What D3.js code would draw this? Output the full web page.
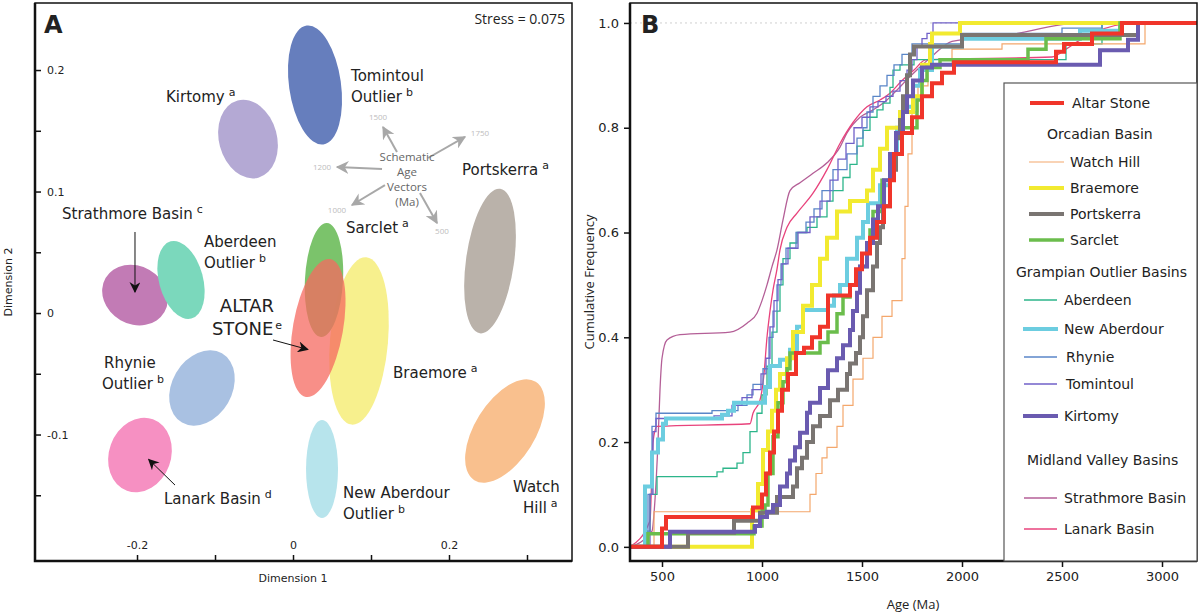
<!DOCTYPE html>
<html>
<head>
<meta charset="utf-8">
<script src="https://cdn.jsdelivr.net/npm/d3@7"></script>
<style>
  body { margin: 0; background: #fff; }
  text { font-family: "DejaVu Sans", sans-serif; fill: #222; }
  .sans { font-family: "Open Sans", sans-serif; }
</style>
</head>
<body>
<svg id="chart" width="1200" height="613"></svg>
<script>
"use strict";

// ---- Panel A: MDS plot, one confidence ellipse per basin ----
// drawing order: later ones sit on top
var mds_names = ['Tomintoul', 'Kirtomy', 'Strathmore', 'Aberdeen', 'Rhynie', 'Lanark',
                 'Portskerra', 'Watch Hill', 'New Aberdour', 'Braemore', 'Sarclet', 'Altar Stone'];
var mds_dim1  = [0.0282, -0.0577, -0.2026, -0.1436, -0.1167, -0.1962,
                 0.2526, 0.2718, 0.0372, 0.0846, 0.0397, 0.0321];
var mds_dim2  = [0.1877, 0.1432, 0.0148, 0.0272, -0.0617, -0.1169,
                 0.0428, -0.0971, -0.1284, -0.0230, 0.0272, -0.0123];
// semi-axes (dimension units) and tilt (degrees)
var mds_semi1 = [0.0333, 0.0372, 0.0436, 0.0282, 0.0385, 0.0397,
                 0.0308, 0.0385, 0.0205, 0.0372, 0.0244, 0.0321];
var mds_semi2 = [0.0494, 0.0329, 0.0239, 0.0329, 0.0329, 0.0313,
                 0.0601, 0.0477, 0.0403, 0.0691, 0.0469, 0.0576];
var mds_tilt  = [-8, -15, 30, -15, 30, 20, 8, 32, 0, 5, 3, 10];

var stress = 0.075;
var dim1_ticks = [-0.2, -0.1, 0, 0.1, 0.2, 0.3];
var dim1_labelled = [-0.2, 0, 0.2];
var dim2_ticks = [-0.15, -0.1, -0.05, 0, 0.05, 0.1, 0.15, 0.2];
var dim2_labelled = [-0.1, 0, 0.1, 0.2];

// ---- Panel B: cumulative age distributions [age Ma, cumulative frequency] ----
var cdf_names = ['Strathmore Basin', 'Lanark Basin', 'Aberdeen', 'Rhynie', 'Tomintoul',
                 'Watch Hill', 'New Aberdour', 'Braemore', 'Sarclet', 'Portskerra',
                 'Kirtomy', 'Altar Stone'];

var strathmore_cdf = [[340,0],[450,0.03],[465,0.09],[480,0.20],[490,0.30],[500,0.36],[525,0.395],
  [590,0.405],[840,0.41],[925,0.427],[975,0.446],[1000,0.47],[1025,0.50],[1050,0.535],[1075,0.567],
  [1105,0.624],[1140,0.68],[1190,0.695],[1255,0.713],[1325,0.733],[1390,0.763],[1425,0.79],
  [1490,0.82],[1555,0.834],[1625,0.853],[1675,0.872],[1720,0.89],[1790,0.916],[1860,0.94],
  [1950,0.965],[2200,0.975],[2600,1.0],[3175,1.0]];
var lanark_cdf = [[340,0],[440,0.05],[455,0.20],[475,0.23],[940,0.235],[955,0.255],[990,0.28],
  [1010,0.33],[1025,0.40],[1040,0.45],[1055,0.49],[1075,0.53],[1090,0.567],[1125,0.61],[1175,0.637],
  [1255,0.675],[1325,0.72],[1390,0.77],[1455,0.81],[1525,0.84],[1590,0.853],[1640,0.866],
  [1700,0.89],[1760,0.91],[1820,0.93],[2450,0.935],[2520,0.95],[2580,0.965],[2650,0.98],
  [2880,1.0],[3175,1.0]];
var aberdeen_cdf = [[340,0],[420,0.03],[440,0.10],[475,0.134],[775,0.143],[805,0.15],[875,0.16],
  [905,0.18],[940,0.22],[975,0.255],[1000,0.29],[1025,0.345],[1050,0.41],[1075,0.45],[1090,0.50],
  [1105,0.55],[1140,0.58],[1175,0.60],[1225,0.61],[1275,0.63],[1325,0.66],[1355,0.68],[1405,0.705],
  [1440,0.73],[1475,0.765],[1505,0.795],[1540,0.82],[1575,0.834],[1605,0.847],[1640,0.877],
  [1655,0.91],[1690,0.92],[1760,0.93],[2520,0.96],[2700,1.0],[3175,1.0]];
var rhynie_cdf = [[340,0],[430,0.10],[450,0.23],[470,0.255],[750,0.26],[880,0.27],[925,0.29],
  [955,0.31],[1005,0.34],[1035,0.40],[1055,0.45],[1075,0.50],[1095,0.54],[1120,0.57],[1170,0.60],
  [1220,0.62],[1260,0.645],[1300,0.68],[1355,0.72],[1425,0.75],[1475,0.78],[1505,0.80],[1525,0.83],
  [1555,0.86],[1590,0.88],[1625,0.90],[1660,0.92],[1700,0.94],[1750,0.96],[2000,0.98],[2500,0.99],
  [2700,1.0],[3175,1.0]];
var tomintoul_cdf = [[340,0],[440,0.10],[455,0.22],[470,0.245],[760,0.25],[850,0.27],[900,0.285],
  [950,0.30],[995,0.33],[1020,0.36],[1040,0.42],[1060,0.47],[1080,0.51],[1100,0.54],[1130,0.57],
  [1180,0.60],[1240,0.63],[1290,0.66],[1340,0.70],[1380,0.74],[1420,0.77],[1460,0.80],[1500,0.82],
  [1540,0.84],[1580,0.85],[1620,0.86],[1655,0.87],[1690,0.89],[1725,0.91],[1750,0.93],[1775,0.954],
  [1800,0.97],[1825,0.98],[1855,1.0],[3175,1.0]];
var watch_hill_cdf = [[340,0],[460,0.067],[1240,0.10],[1270,0.14],[1300,0.17],[1325,0.19],
  [1375,0.23],[1405,0.27],[1455,0.32],[1505,0.36],[1555,0.40],[1600,0.44],[1650,0.47],[1700,0.55],
  [1715,0.65],[1730,0.75],[1750,0.83],[1780,0.88],[1830,0.92],[1950,0.95],[2200,0.96],[2915,1.0],
  [3175,1.0]];
var new_aberdour_cdf = [[340,0],[415,0.115],[450,0.18],[480,0.205],[505,0.235],[520,0.245],
  [800,0.252],[830,0.26],[860,0.275],[1015,0.305],[1040,0.345],[1090,0.357],[1140,0.376],
  [1175,0.42],[1205,0.452],[1330,0.46],[1360,0.48],[1390,0.50],[1425,0.55],[1475,0.59],[1505,0.62],
  [1530,0.656],[1590,0.69],[1640,0.75],[1675,0.80],[1705,0.84],[1755,0.88],[1790,0.91],[1850,0.955],
  [2000,0.97],[2590,0.985],[2790,1.0],[3175,1.0]];
var braemore_cdf = [[340,0],[950,0.07],[980,0.12],[1005,0.185],[1030,0.22],[1050,0.26],[1070,0.30],
  [1090,0.33],[1125,0.36],[1155,0.41],[1205,0.46],[1250,0.50],[1290,0.55],[1325,0.59],[1375,0.64],
  [1440,0.66],[1525,0.68],[1555,0.72],[1590,0.76],[1625,0.80],[1690,0.83],[1755,0.86],[1800,0.92],
  [1840,0.96],[1850,0.98],[1990,1.0],[3175,1.0]];
var sarclet_cdf = [[340,0],[430,0.025],[960,0.04],[1000,0.07],[1015,0.08],[1030,0.14],[1055,0.21],
  [1080,0.275],[1105,0.315],[1125,0.34],[1140,0.37],[1290,0.39],[1330,0.41],[1375,0.445],
  [1405,0.477],[1440,0.50],[1490,0.535],[1525,0.58],[1540,0.605],[1555,0.64],[1600,0.70],
  [1640,0.75],[1700,0.80],[1775,0.853],[1800,0.89],[1825,0.915],[1890,0.93],[2330,0.95],
  [2420,0.97],[2790,1.0],[3175,1.0]];
var portskerra_cdf = [[340,0],[630,0.027],[860,0.05],[990,0.065],[1075,0.095],[1155,0.115],
  [1175,0.15],[1200,0.17],[1225,0.20],[1255,0.23],[1290,0.25],[1340,0.28],[1380,0.30],[1425,0.33],
  [1440,0.35],[1470,0.37],[1490,0.40],[1505,0.44],[1525,0.49],[1555,0.535],[1575,0.58],[1590,0.61],
  [1605,0.65],[1640,0.72],[1670,0.78],[1690,0.815],[1705,0.86],[1725,0.90],[1740,0.94],[1760,0.955],
  [2000,0.977],[2880,1.0],[3175,1.0]];
var kirtomy_cdf = [[340,0],[540,0.029],[965,0.04],[990,0.057],[1025,0.067],[1055,0.08],[1090,0.115],
  [1125,0.14],[1140,0.165],[1165,0.19],[1190,0.218],[1225,0.256],[1240,0.275],[1290,0.303],
  [1330,0.337],[1375,0.36],[1405,0.385],[1440,0.414],[1455,0.45],[1475,0.485],[1490,0.535],
  [1525,0.58],[1555,0.625],[1580,0.65],[1610,0.70],[1640,0.75],[1670,0.79],[1705,0.83],[1725,0.86],
  [1755,0.89],[1800,0.915],[1850,0.92],[2690,0.948],[2830,0.968],[2880,1.0],[3175,1.0]];
var altar_stone_cdf = [[340,0],[500,0.035],[520,0.057],[955,0.075],[1000,0.10],[1020,0.14],
  [1040,0.18],[1060,0.22],[1080,0.26],[1100,0.30],[1130,0.33],[1170,0.37],[1210,0.38],[1250,0.40],
  [1290,0.42],[1330,0.48],[1440,0.50],[1470,0.53],[1500,0.56],[1540,0.59],[1575,0.62],[1610,0.65],
  [1640,0.70],[1660,0.75],[1700,0.79],[1750,0.82],[1800,0.86],[1850,0.885],[1900,0.905],
  [1960,0.925],[2470,0.945],[2510,0.96],[2650,0.98],[2800,1.0],[3175,1.0]];

var cdf_values = [strathmore_cdf, lanark_cdf, aberdeen_cdf, rhynie_cdf, tomintoul_cdf,
                  watch_hill_cdf, new_aberdour_cdf, braemore_cdf, sarclet_cdf, portskerra_cdf,
                  kirtomy_cdf, altar_stone_cdf];

var age_ticks = [500, 1000, 1500, 2000, 2500, 3000];
var freq_ticks = [0, 0.2, 0.4, 0.6, 0.8, 1.0];

// ---- styles ----
var ellipse_colors = {
  'Tomintoul': '#667ebd', 'Kirtomy': '#b4a9d4', 'Strathmore': '#c27bb5', 'Aberdeen': '#7bd8bc',
  'Rhynie': '#a9c1e2', 'Lanark': '#f690c2', 'Portskerra': '#bab2aa', 'Watch Hill': '#f9c08e',
  'New Aberdour': '#b7e4ec', 'Braemore': '#f7f08d', 'Sarclet': '#74c063', 'Altar Stone': '#f56a60'
};
var ellipse_opacity = { 'Sarclet': 0.95, 'Altar Stone': 0.75 };

var line_styles = {
  'Altar Stone':      { color: '#f0352a', width: 4 },
  'Watch Hill':       { color: '#f4a76c', width: 1.2 },
  'Braemore':         { color: '#f2ea30', width: 4 },
  'Portskerra':       { color: '#7a7572', width: 4 },
  'Sarclet':          { color: '#6bbd4c', width: 3.5 },
  'Aberdeen':         { color: '#2cb58a', width: 1.3 },
  'New Aberdour':     { color: '#6ccde0', width: 4 },
  'Rhynie':           { color: '#5a86c8', width: 1.3 },
  'Tomintoul':        { color: '#7060c8', width: 1.3 },
  'Kirtomy':          { color: '#6a5bb0', width: 4 },
  'Strathmore Basin': { color: '#b45f97', width: 1.3 },
  'Lanark Basin':     { color: '#e8437c', width: 1.3 }
};

var svg = d3.select('#chart');
var defs = svg.append('defs');

function add_marker(id, color, size) {
  defs.append('marker')
    .attr('id', id)
    .attr('viewBox', '0 0 10 10')
    .attr('refX', 9).attr('refY', 5)
    .attr('markerWidth', size).attr('markerHeight', size)
    .attr('markerUnits', 'userSpaceOnUse')
    .attr('orient', 'auto')
    .append('path')
    .attr('d', 'M0,0 L10,5 L0,10 L3,5 Z')
    .attr('fill', color);
}
add_marker('arrow-black', '#111', 11);
add_marker('arrow-grey', '#a8a8a8', 13);

// ================= Panel A =================
var a_x = d3.scaleLinear().domain([-0.3308, 0.3577]).range([35, 572]);
var a_y = d3.scaleLinear().domain([-0.2041, 0.256]).range([561, 2]);
var pa = svg.append('g');

mds_names.forEach(function(name, i) {
  pa.append('ellipse')
    .attr('rx', a_x(mds_semi1[i]) - a_x(0))
    .attr('ry', a_y(0) - a_y(mds_semi2[i]))
    .attr('transform', 'translate(' + a_x(mds_dim1[i]) + ',' + a_y(mds_dim2[i]) + ') rotate(' + mds_tilt[i] + ')')
    .attr('fill', ellipse_colors[name])
    .attr('fill-opacity', ellipse_opacity[name] || 1);
});

function labeller(labelled) {
  return function(d) {
    var hit = labelled.some(function(v) { return Math.abs(v - d) < 1e-9; });
    if (!hit) return '';
    return Math.abs(d) < 1e-9 ? '0' : String(+d.toFixed(1));
  };
}

var a_yaxis = pa.append('g')
  .attr('transform', 'translate(35,0)')
  .call(d3.axisRight(a_y).tickValues(dim2_ticks).tickSize(6).tickPadding(6).tickFormat(labeller(dim2_labelled)));
var a_xaxis = pa.append('g')
  .attr('transform', 'translate(0,561)')
  .call(d3.axisTop(a_x).tickValues(dim1_ticks).tickSize(6).tickPadding(6).tickFormat(labeller(dim1_labelled)));
[a_yaxis, a_xaxis].forEach(function(ax) {
  ax.select('.domain').remove();
  ax.selectAll('line').attr('stroke', '#111').attr('stroke-width', 1.5);
  ax.selectAll('text').attr('font-size', 11).attr('font-family', '"DejaVu Sans", sans-serif').attr('fill', '#222');
});

// frame
pa.append('rect').attr('x', 35).attr('y', 3).attr('width', 537).attr('height', 558)
  .attr('fill', 'none').attr('stroke', '#111').attr('stroke-width', 1.5);
pa.append('path').attr('d', 'M35,3 V561 H572').attr('fill', 'none').attr('stroke', '#111').attr('stroke-width', 2.5);

pa.append('text').attr('x', 44).attr('y', 33).attr('font-size', 24).attr('font-weight', 'bold')
  .attr('fill', '#000').text('A');
pa.append('text').attr('class', 'sans').attr('x', 565).attr('y', 24).attr('text-anchor', 'end')
  .attr('font-size', 14).text('Stress = ' + stress);

pa.append('text').attr('x', 293).attr('y', 582).attr('text-anchor', 'middle').attr('font-size', 11)
  .text('Dimension 1');
pa.append('text').attr('transform', 'translate(12,282) rotate(-90)').attr('text-anchor', 'middle')
  .attr('font-size', 11).text('Dimension 2');

// basin labels: lines, superscript, anchor in MDS units
var basin_labels = [
  { lines: ['Kirtomy'], sup: 'a', d1: -0.1628, d2: 0.1737 },
  { lines: ['Tomintoul', 'Outlier'], sup: 'b', d1: 0.0744, d2: 0.1909 },
  { lines: ['Strathmore Basin'], sup: 'c', d1: -0.2962, d2: 0.0774 },
  { lines: ['Aberdeen', 'Outlier'], sup: 'b', d1: -0.1141, d2: 0.0543 },
  { lines: ['Rhynie', 'Outlier'], sup: 'b', d1: -0.2449, d2: -0.0453, indent: [2, 0] },
  { lines: ['Lanark Basin'], sup: 'd', d1: -0.1654, d2: -0.1572 },
  { lines: ['Braemore'], sup: 'a', d1: 0.1282, d2: -0.0535 },
  { lines: ['New Aberdour', 'Outlier'], sup: 'b', d1: 0.0641, d2: -0.1523 },
  { lines: ['Watch', 'Hill'], sup: 'a', d1: 0.2821, d2: -0.1473, indent: [0, 10] },
  { lines: ['Portskerra'], sup: 'a', d1: 0.2167, d2: 0.1136 },
  { lines: ['Sarclet'], sup: 'a', d1: 0.0679, d2: 0.0658 },
  { lines: ['ALTAR', 'STONE'], sup: 'e', d1: -0.0590, d2: 0.0008, big: true }
];

basin_labels.forEach(function(lab) {
  var size = lab.big ? 18 : 15;
  var t = pa.append('text')
    .attr('font-size', size)
    .attr('text-anchor', lab.big ? 'middle' : 'start')
    .attr('x', a_x(lab.d1)).attr('y', a_y(lab.d2));
  lab.lines.forEach(function(line, k) {
    t.append('tspan').attr('x', a_x(lab.d1) + (lab.indent ? lab.indent[k] : 0))
      .attr('y', a_y(lab.d2) + k * (lab.big ? 23 : 21)).text(line);
    if (k === lab.lines.length - 1) {
      t.append('tspan').attr('dx', lab.big ? 2 : 4).attr('dy', -6).attr('font-size', 11).text(lab.sup);
    }
  });
});

// pointer arrows
var pointers = [
  [-0.2026, 0.0667, -0.2026, 0.0173],
  [-0.0256, -0.0222, 0.0190, -0.0300],
  [-0.1513, -0.1416, -0.1850, -0.1205]
];
pointers.forEach(function(p) {
  pa.append('line')
    .attr('x1', a_x(p[0])).attr('y1', a_y(p[1]))
    .attr('x2', a_x(p[2])).attr('y2', a_y(p[3]))
    .attr('stroke', '#111').attr('stroke-width', 1)
    .attr('marker-end', 'url(#arrow-black)');
});

// schematic age vectors
var vector_ages = ['1500', '1750', '1200', '1000', '500'];
var vector_from = [[0.1333, 0.1325], [0.1731, 0.1276], [0.1141, 0.1185], [0.1179, 0.1053], [0.1628, 0.0988]];
var vector_to   = [[0.1154, 0.1531], [0.2205, 0.1449], [0.0564, 0.1202], [0.0756, 0.0889], [0.1846, 0.0741]];
var vector_lab  = [[0.1090, 0.1613], [0.2397, 0.1481], [0.0372, 0.1202], [0.0564, 0.0848], [0.1910, 0.0675]];

vector_ages.forEach(function(age, i) {
  pa.append('line')
    .attr('x1', a_x(vector_from[i][0])).attr('y1', a_y(vector_from[i][1]))
    .attr('x2', a_x(vector_to[i][0])).attr('y2', a_y(vector_to[i][1]))
    .attr('stroke', '#a8a8a8').attr('stroke-width', 2)
    .attr('marker-end', 'url(#arrow-grey)');
  pa.append('text').attr('class', 'sans')
    .attr('x', a_x(vector_lab[i][0])).attr('y', a_y(vector_lab[i][1]) + 3)
    .attr('text-anchor', 'middle').attr('font-size', 8).style('fill', '#bdbdbd').text(age);
});
var sch = pa.append('text').attr('class', 'sans').attr('text-anchor', 'middle').attr('font-size', 11.5)
  .style('fill', '#666');
['Schematic', 'Age', 'Vectors', '(Ma)'].forEach(function(w, k) {
  sch.append('tspan').attr('x', a_x(0.1462)).attr('y', a_y(0.1111) - 17 + k * 15).text(w);
});

// ================= Panel B =================
var b_x = d3.scaleLinear().domain([340, 3175]).range([630, 1197]);
var b_y = d3.scaleLinear().domain([-0.027, 1.04]).range([561, 2]);
var pb = svg.append('g');

defs.append('clipPath').attr('id', 'clip-b').append('rect')
  .attr('x', 630).attr('y', 3).attr('width', 567).attr('height', 558);

pb.append('line')
  .attr('x1', b_x(340)).attr('x2', b_x(3175)).attr('y1', b_y(1)).attr('y2', b_y(1))
  .attr('stroke', '#cfcfcf').attr('stroke-dasharray', '2,3');

var cdf_line = d3.line()
  .x(function(d) { return b_x(d[0]); })
  .y(function(d) { return b_y(d[1]); });

var lines_g = pb.append('g').attr('clip-path', 'url(#clip-b)');
cdf_names.forEach(function(name, i) {
  var smooth = name === 'Strathmore Basin' || name === 'Lanark Basin';
  lines_g.append('path')
    .attr('d', cdf_line.curve(smooth ? d3.curveMonotoneX : d3.curveStepAfter)(cdf_values[i]))
    .attr('fill', 'none')
    .attr('stroke', line_styles[name].color)
    .attr('stroke-width', line_styles[name].width);
});

var b_yaxis = pb.append('g').attr('transform', 'translate(630,0)')
  .call(d3.axisLeft(b_y).tickValues(freq_ticks).tickSize(6).tickPadding(5).tickFormat(d3.format('.1f')));
var b_xaxis = pb.append('g').attr('transform', 'translate(0,561)')
  .call(d3.axisBottom(b_x).tickValues(age_ticks).tickSize(6).tickPadding(5).tickFormat(d3.format('d')));
[b_yaxis, b_xaxis].forEach(function(ax) {
  ax.select('.domain').remove();
  ax.selectAll('line').attr('stroke', '#111').attr('stroke-width', 1.5);
  ax.selectAll('text').attr('font-size', 13).attr('font-family', '"Open Sans", sans-serif').attr('fill', '#333');
});

pb.append('rect').attr('x', 630).attr('y', 3).attr('width', 567).attr('height', 558)
  .attr('fill', 'none').attr('stroke', '#111').attr('stroke-width', 1.5);
pb.append('path').attr('d', 'M630,3 V561 H1197').attr('fill', 'none').attr('stroke', '#111').attr('stroke-width', 2.5);

pb.append('text').attr('x', 641).attr('y', 33).attr('font-size', 24).attr('font-weight', 'bold')
  .attr('fill', '#000').text('B');
pb.append('text').attr('class', 'sans').attr('x', 913).attr('y', 609).attr('text-anchor', 'middle')
  .attr('font-size', 13).text('Age (Ma)');
pb.append('text').attr('class', 'sans').attr('transform', 'translate(594,282) rotate(-90)')
  .attr('text-anchor', 'middle').attr('font-size', 13).text('Cumulative Frequency');

// legend
var legend = pb.append('g').attr('class', 'sans');
legend.append('rect').attr('x', 1004).attr('y', 83).attr('width', 193).attr('height', 478)
  .attr('fill', '#fff').attr('stroke', '#555').attr('stroke-width', 1.2);

var legend_rows = [
  { label: 'Altar Stone', y: 103, x0: 1030, x1: 1064, tx: 1072 },
  { header: 'Orcadian Basin', y: 134, tx: 1047 },
  { label: 'Watch Hill', y: 162, x0: 1029, x1: 1064, tx: 1070 },
  { label: 'Braemore', y: 188, x0: 1029, x1: 1064, tx: 1070 },
  { label: 'Portskerra', y: 214, x0: 1029, x1: 1064, tx: 1070 },
  { label: 'Sarclet', y: 240, x0: 1029, x1: 1064, tx: 1070 },
  { header: 'Grampian Outlier Basins', y: 272, tx: 1016 },
  { label: 'Aberdeen', y: 300, x0: 1024, x1: 1057, tx: 1064 },
  { label: 'New Aberdour', y: 329, x0: 1023, x1: 1058, tx: 1064 },
  { label: 'Rhynie', y: 357, x0: 1024, x1: 1057, tx: 1066 },
  { label: 'Tomintoul', y: 384, x0: 1024, x1: 1057, tx: 1066 },
  { label: 'Kirtomy', y: 416, x0: 1023, x1: 1058, tx: 1064 },
  { header: 'Midland Valley Basins', y: 460, tx: 1027 },
  { label: 'Strathmore Basin', y: 498, x0: 1024, x1: 1057, tx: 1064 },
  { label: 'Lanark Basin', y: 529, x0: 1024, x1: 1057, tx: 1064 }
];

legend_rows.forEach(function(row) {
  if (row.header) {
    legend.append('text').attr('x', row.tx).attr('y', row.y + 5).attr('font-size', 14).text(row.header);
    return;
  }
  var st = line_styles[row.label];
  legend.append('line').attr('x1', row.x0).attr('x2', row.x1).attr('y1', row.y).attr('y2', row.y)
    .attr('stroke', st.color).attr('stroke-width', st.width);
  legend.append('text').attr('x', row.tx).attr('y', row.y + 5).attr('font-size', 14).text(row.label);
});
</script>
</body>
</html>
